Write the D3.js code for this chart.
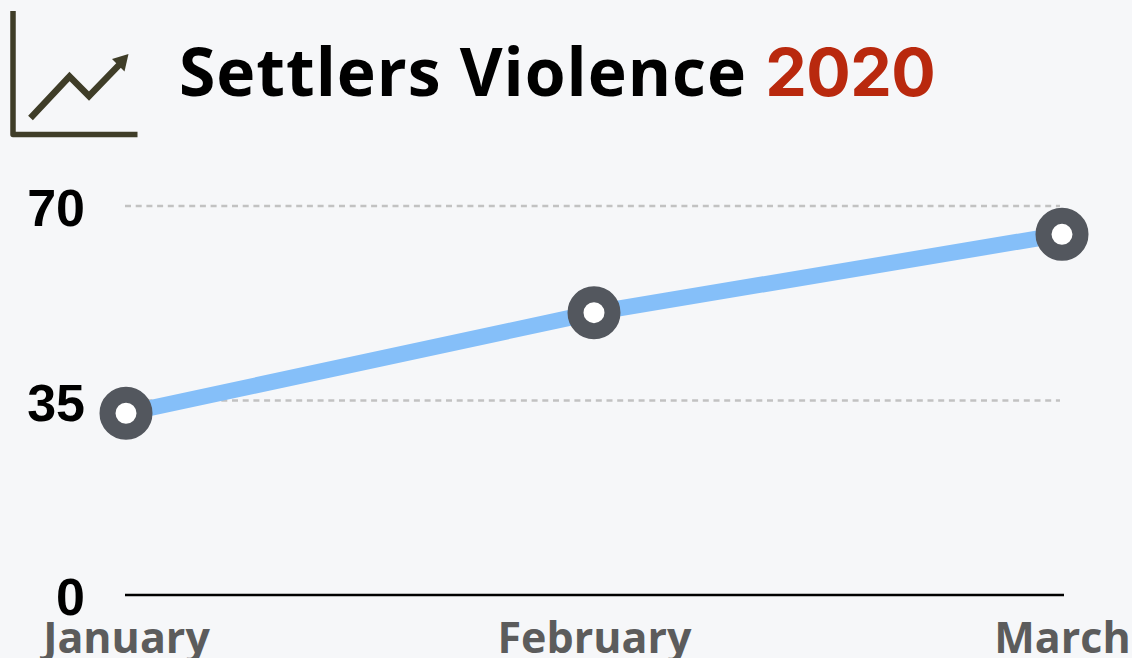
<!DOCTYPE html>
<html>
<head>
<meta charset="utf-8">
<script src="https://cdn.jsdelivr.net/npm/d3@7"></script>
<style>
  html, body { margin: 0; padding: 0; background: #f6f7f9; overflow: hidden; }
  svg { display: block; }
  .grid line { stroke: #c2c2c2; stroke-width: 2.5; stroke-dasharray: 6 4.7; }
  .y-labels text { font: bold 52px "Liberation Sans", Arial, sans-serif; fill: #000; }
  .x-labels text { font: bold 43px "Open Sans", sans-serif; fill: #5c5c5c; }
</style>
</head>
<body>
<div id="chart"></div>
<script>
  const months = ["January", "February", "March"];
  const incidents = [32.7, 50.8, 64.9];
  const yTicks = [0, 35, 70];
  const titleText = "Settlers Violence ";
  const titleYear = "2020";

  const width = 1132, height = 658;

  const x = d3.scalePoint().domain(months).range([126, 1062]);
  const y = d3.scaleLinear().domain([0, 70]).range([595, 206]);

  const svg = d3.select("#chart")
    .append("svg")
    .attr("width", width)
    .attr("height", height);

  // icon
  const icon = svg.append("g").attr("fill", "none").attr("stroke", "#3f3d28");
  icon.append("path")
    .attr("d", "M13 11V134.5H137.5")
    .attr("stroke-width", 5.5)
    .attr("stroke-linejoin", "round");
  icon.append("path")
    .attr("d", "M30.5 118L69.5 76.5L89 96L120 64")
    .attr("stroke-width", 6.5);
  icon.append("path")
    .attr("d", "M128.5 54L112 59L124.5 71.5Z")
    .attr("fill", "#3f3d28")
    .attr("stroke", "none");

  // title
  const title = svg.append("text")
    .attr("x", 179)
    .attr("y", 96)
    .attr("font-family", "'Open Sans', sans-serif")
    .attr("font-weight", 700)
    .attr("font-size", 66)
    .attr("letter-spacing", 1);
  title.append("tspan").attr("fill", "#000").text(titleText);
  title.append("tspan")
    .attr("fill", "#b9290e")
    .attr("font-family", "Inter, sans-serif")
    .attr("letter-spacing", -0.5)
    .text(titleYear);

  // gridlines
  svg.append("g")
    .attr("class", "grid")
    .selectAll("line")
    .data(yTicks.filter(d => d > 0))
    .enter()
    .append("line")
    .attr("x1", 125)
    .attr("x2", 1060)
    .attr("y1", d => y(d))
    .attr("y2", d => y(d));

  // y labels
  const yAxis = svg.append("g")
    .attr("class", "y-labels")
    .attr("transform", "translate(85,1.5)")
    .call(d3.axisLeft(y).tickValues(yTicks).tickSize(0).tickPadding(0));
  yAxis.select(".domain").remove();
  yAxis.selectAll("text").attr("dy", "0.35em");

  // baseline + month labels
  const xAxis = svg.append("g")
    .attr("class", "x-labels")
    .attr("transform", "translate(0," + y(0) + ")")
    .call(d3.axisBottom(x).tickSize(0).tickPadding(27));
  xAxis.select(".domain").remove();
  xAxis.selectAll("text").attr("dy", "0.71em");
  svg.append("line")
    .attr("x1", 125)
    .attr("x2", 1064)
    .attr("y1", y(0))
    .attr("y2", y(0))
    .attr("stroke", "#000")
    .attr("stroke-width", 2.5);

  // line
  const line = d3.line()
    .x((d, i) => x(months[i]))
    .y(d => y(d));

  svg.append("path")
    .datum(incidents)
    .attr("d", line)
    .attr("fill", "none")
    .attr("stroke", "#85bff9")
    .attr("stroke-width", 16);

  svg.selectAll(".dot")
    .data(incidents)
    .enter()
    .append("circle")
    .attr("class", "dot")
    .attr("cx", (d, i) => x(months[i]))
    .attr("cy", d => y(d))
    .attr("r", 18.5)
    .attr("fill", "#fff")
    .attr("stroke", "#53575e")
    .attr("stroke-width", 16);
</script>
</body>
</html>
